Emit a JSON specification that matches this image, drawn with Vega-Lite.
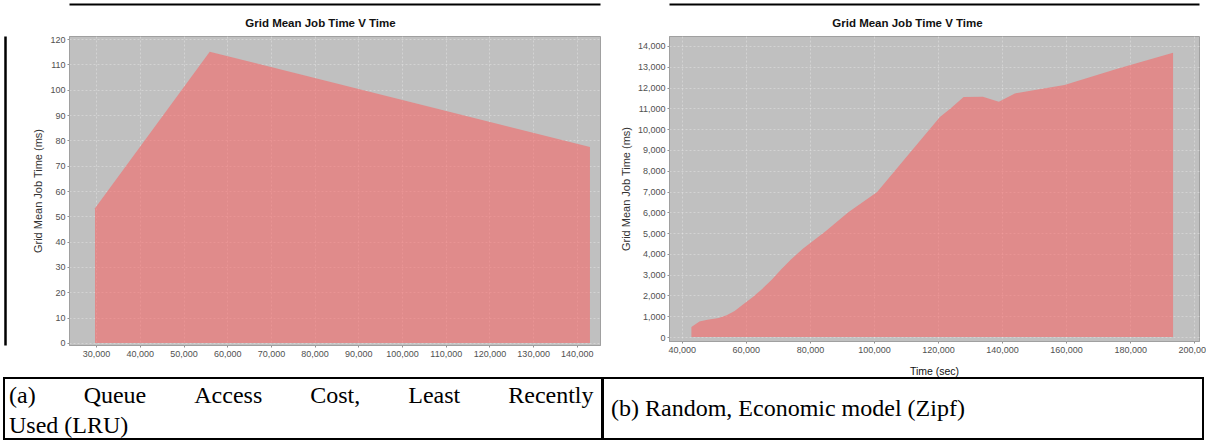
{
  "$schema": "https://vega.github.io/schema/vega-lite/v6.json",
  "background": "white",
  "padding": {"left": 3, "top": 3, "right": 0, "bottom": 0},
  "bounds": "flush",
  "columns": 2,
  "spacing": {"row": 33, "column": 69},
  "config": {
    "view": {"stroke": null},
    "axis": {
      "labelFont": "Liberation Sans", "labelFontSize": 9, "labelColor": "#505050",
      "tickColor": "#909090", "tickSize": 2, "labelPadding": 2,
      "domainColor": "#a0a0a0",
      "gridColor": "#ffffff", "gridDash": [2, 2], "gridWidth": 0.5, "gridOpacity": 0.6,
      "titleFont": "Liberation Sans", "titleFontWeight": "normal", "titleColor": "#333333", "titleFontSize": 11,
      "labelFlush": false, "labelOverlap": false
    }
  },
  "concat": [
    {
      "width": 531, "height": 309,
      "view": {"fill": "#c0c0c0", "stroke": "#a0a0a0", "strokeWidth": 1},
      "data": {"values": [
        {"t": 29750, "v": 53.2},
        {"t": 56000, "v": 115},
        {"t": 143000, "v": 77.4}
      ]},
      "layer": [
        {
          "mark": {"type": "area", "color": "#ff5555", "opacity": 0.5},
          "encoding": {
            "x": {"field": "t", "type": "quantitative", "scale": {"domain": [23800, 145300], "nice": false, "zero": false},
                  "axis": {"orient": "bottom", "values": [30000, 40000, 50000, 60000, 70000, 80000, 90000, 100000, 110000, 120000, 130000, 140000], "format": ",d", "title": null, "grid": true}},
            "y": {"field": "v", "type": "quantitative", "scale": {"domain": [-0.8, 121.2], "nice": false, "zero": false},
                  "axis": {"orient": "left", "values": [0, 10, 20, 30, 40, 50, 60, 70, 80, 90, 100, 110, 120], "title": "Grid Mean Job Time (ms)", "titlePadding": 6, "grid": true}}
          }
        },
        {
          "mark": {"type": "area", "opacity": 0},
          "encoding": {
            "x": {"field": "t", "type": "quantitative",
                  "axis": {"orient": "top", "title": "Grid Mean Job Time V Time", "titleX": 251, "titleFontSize": 11.5, "titleFontWeight": "bold", "titleColor": "#111111", "titlePadding": 8, "domain": false, "ticks": false, "labels": false, "grid": false}},
            "y": {"field": "v", "type": "quantitative",
                  "axis": {"orient": "left", "offset": 64, "domainColor": "#000000", "domainWidth": 2.5, "ticks": false, "labels": false, "grid": false, "title": null}}
          }
        },
        {
          "mark": {"type": "area", "opacity": 0},
          "encoding": {
            "x": {"field": "t", "type": "quantitative",
                  "axis": {"orient": "top", "offset": 32, "domainColor": "#000000", "domainWidth": 2, "ticks": false, "labels": false, "grid": false, "title": null}},
            "y": {"field": "v", "type": "quantitative", "axis": null}
          }
        }
      ],
      "resolve": {"axis": {"x": "independent", "y": "independent"}}
    },
    {
      "width": 530, "height": 305,
      "view": {"fill": "#c0c0c0", "stroke": "#a0a0a0", "strokeWidth": 1},
      "data": {"values": [
        {"t": 43000, "v": 480},
        {"t": 45500, "v": 750},
        {"t": 48000, "v": 830},
        {"t": 51500, "v": 920},
        {"t": 54000, "v": 1050},
        {"t": 56500, "v": 1250},
        {"t": 59000, "v": 1550},
        {"t": 62000, "v": 1900},
        {"t": 65000, "v": 2300},
        {"t": 68000, "v": 2750},
        {"t": 71000, "v": 3250},
        {"t": 74000, "v": 3720},
        {"t": 77800, "v": 4250},
        {"t": 85000, "v": 5100},
        {"t": 92000, "v": 6000},
        {"t": 101000, "v": 6980},
        {"t": 110000, "v": 8640},
        {"t": 120600, "v": 10580},
        {"t": 124000, "v": 11000},
        {"t": 128000, "v": 11550},
        {"t": 134000, "v": 11560},
        {"t": 139000, "v": 11320},
        {"t": 144000, "v": 11720},
        {"t": 153000, "v": 11960},
        {"t": 159500, "v": 12120},
        {"t": 176000, "v": 12900},
        {"t": 193400, "v": 13680}
      ]},
      "layer": [
        {
          "mark": {"type": "area", "color": "#ff5555", "opacity": 0.5},
          "encoding": {
            "x": {"field": "t", "type": "quantitative", "scale": {"domain": [36000, 201500], "nice": false, "zero": false},
                  "axis": {"orient": "bottom", "values": [40000, 60000, 80000, 100000, 120000, 140000, 160000, 180000, 200000], "format": ",d", "title": "Time (sec)", "titleFontSize": 10.5, "titleColor": "#111111", "titlePadding": 12, "grid": true}},
            "y": {"field": "v", "type": "quantitative", "scale": {"domain": [-190, 14480], "nice": false, "zero": false},
                  "axis": {"orient": "left", "values": [0, 1000, 2000, 3000, 4000, 5000, 6000, 7000, 8000, 9000, 10000, 11000, 12000, 13000, 14000], "format": ",d", "title": "Grid Mean Job Time (ms)", "titlePadding": 6, "grid": true}}
          }
        },
        {
          "mark": {"type": "area", "opacity": 0},
          "encoding": {
            "x": {"field": "t", "type": "quantitative",
                  "axis": {"orient": "top", "title": "Grid Mean Job Time V Time", "titleX": 238, "titleFontSize": 11.5, "titleFontWeight": "bold", "titleColor": "#111111", "titlePadding": 8, "domain": false, "ticks": false, "labels": false, "grid": false}},
            "y": {"field": "v", "type": "quantitative", "axis": null}
          }
        },
        {
          "mark": {"type": "area", "opacity": 0},
          "encoding": {
            "x": {"field": "t", "type": "quantitative",
                  "axis": {"orient": "top", "offset": 32, "domainColor": "#000000", "domainWidth": 2, "ticks": false, "labels": false, "grid": false, "title": null}},
            "y": {"field": "v", "type": "quantitative", "axis": null}
          }
        }
      ],
      "resolve": {"axis": {"x": "independent", "y": "independent"}}
    },
    {
      "width": 531, "height": 61,
      "view": {"stroke": null},
      "data": {"values": [
        {"panel": "a", "caption": "(a)\u00a0\u00a0\u00a0\u00a0\u00a0\u00a0\u00a0\u00a0Queue\u00a0\u00a0\u00a0\u00a0\u00a0\u00a0\u00a0\u00a0Access\u00a0\u00a0\u00a0\u00a0\u00a0\u00a0\u00a0\u00a0Cost,\u00a0\u00a0\u00a0\u00a0\u00a0\u00a0\u00a0\u00a0Least\u00a0\u00a0\u00a0\u00a0\u00a0\u00a0\u00a0\u00a0Recently\nUsed (LRU)"}
      ]},
      "encoding": {
        "x": {"field": "panel", "type": "nominal", "bandPosition": 0, "scale": {"type": "band", "range": [-65, 533], "paddingInner": 0, "paddingOuter": 0}, "axis": null}
      },
      "layer": [
        {"mark": {"type": "rect", "fill": "white", "stroke": "black", "strokeWidth": 2}},
        {
          "mark": {"type": "text", "align": "left", "baseline": "middle", "dx": 5, "dy": -13, "font": "Liberation Serif", "fontSize": 24, "lineBreak": "\n", "lineHeight": 30, "color": "black"},
          "encoding": {"text": {"field": "caption"}}
        }
      ]
    },
    {
      "width": 530, "height": 61,
      "view": {"stroke": null},
      "data": {"values": [
        {"panel": "b", "caption": "(b) Random, Economic model (Zipf)"}
      ]},
      "encoding": {
        "x": {"field": "panel", "type": "nominal", "bandPosition": 0, "scale": {"type": "band", "range": [-66, 534], "paddingInner": 0, "paddingOuter": 0}, "axis": null}
      },
      "layer": [
        {"mark": {"type": "rect", "fill": "white", "stroke": "black", "strokeWidth": 2}},
        {
          "mark": {"type": "text", "align": "left", "baseline": "middle", "dx": 8, "font": "Liberation Serif", "fontSize": 24, "color": "black"},
          "encoding": {"text": {"field": "caption"}}
        }
      ]
    }
  ]
}
